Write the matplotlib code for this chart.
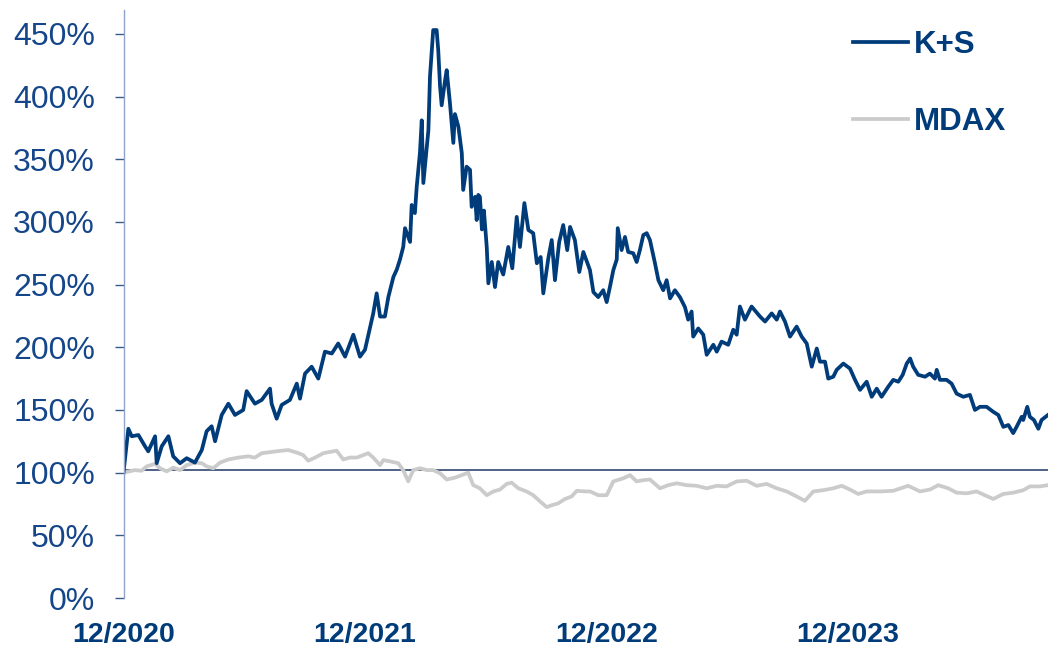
import matplotlib
matplotlib.use("Agg")
import matplotlib.pyplot as plt
from matplotlib.ticker import FuncFormatter

plt.rcParams['font.family'] = ['Liberation Sans', 'DejaVu Sans']

# months since 12/2020
ks_month = [0, 0.24, 0.41, 0.74, 1.07, 1.23, 1.57, 1.65, 1.90, 2.23, 2.47, 2.81, 3.14, 3.55,
            3.89, 4.13, 4.38, 4.55, 4.88, 5.21, 5.54, 5.95, 6.12, 6.53, 6.87, 7.28, 7.36, 7.61,
            7.86, 8.27, 8.61, 8.77, 9.02, 9.35, 9.68, 10.01, 10.35, 10.67, 11.01, 11.42, 11.75,
            12.00, 12.41, 12.58, 12.75, 12.99, 13.16, 13.41, 13.58, 13.74, 13.90, 13.99, 14.24,
            14.32, 14.48, 14.57, 14.73, 14.82, 14.90, 15.07, 15.15, 15.23, 15.39, 15.56, 15.64,
            15.73, 15.81, 15.98, 16.06, 16.22, 16.39, 16.47, 16.64, 16.81, 16.88, 17.05, 17.22,
            17.30, 17.47, 17.55, 17.63, 17.71, 17.81, 17.91, 18.05, 18.13, 18.30, 18.46, 18.62,
            18.87, 19.12, 19.32, 19.54, 19.70, 19.92, 20.12, 20.36, 20.54, 20.73, 20.86, 21.11,
            21.28, 21.44, 21.65, 21.85, 22.05, 22.19, 22.43, 22.65, 22.85, 23.18, 23.35, 23.59,
            23.84, 24.01, 24.17, 24.34, 24.51, 24.56, 24.75, 24.92, 25.08, 25.33, 25.50, 25.66,
            25.83, 26.00, 26.16, 26.41, 26.58, 26.82, 26.99, 27.16, 27.40, 27.65, 27.90, 28.06,
            28.23, 28.31, 28.56, 28.81, 28.98, 29.31, 29.48, 29.72, 30.05, 30.30, 30.47, 30.63,
            30.88, 31.21, 31.63, 31.88, 32.21, 32.46, 32.62, 32.87, 33.12, 33.45, 33.70, 33.95,
            34.20, 34.45, 34.61, 34.86, 35.02, 35.27, 35.44, 35.77, 36.10, 36.35, 36.60, 36.93,
            37.18, 37.43, 37.67, 38.00, 38.25, 38.50, 38.72, 38.92, 39.09, 39.24, 39.49, 39.83,
            40.07, 40.32, 40.41, 40.57, 40.90, 41.15, 41.40, 41.73, 42.06, 42.31, 42.56, 42.89,
            43.22, 43.47, 43.72, 43.97, 44.21, 44.38, 44.63, 44.71, 44.91, 45.04, 45.24, 45.46,
            45.62, 45.94]
ks_value = [100, 135, 129, 130, 121, 117, 129, 107.5, 121, 129, 113, 107.5, 111.5, 108,
            118, 133, 137, 125, 146, 155, 146, 150, 165, 155, 158, 167, 155, 143,
            154, 158, 171, 159, 179, 184.5, 175, 196.5, 195, 203, 192.5, 210, 192.5,
            198, 227, 243, 224.5, 224.5, 240, 256, 262, 270, 280, 295, 284,
            313.5, 307, 328, 355, 381, 331, 360, 373, 416, 453, 453, 437,
            408, 393, 413, 421, 395, 363, 386, 376, 355, 325.5, 344, 341.5,
            312, 320, 301.5, 321.5, 320, 294, 309, 280, 251, 268, 248, 268,
            258, 280, 263, 304, 280, 315, 293.5, 291, 267, 272, 243, 271,
            285.5, 253.5, 284, 297.5, 277.5, 296, 285.5, 260, 276, 261.5, 244, 240,
            245.5, 236, 248, 261.5, 270, 295, 277.5, 288, 276, 275, 268, 277.5,
            289.5, 291, 285.5, 267, 253.5, 245.5, 253.5, 239, 245.5, 240, 232, 222,
            228.5, 208.5, 215, 210, 194, 202, 196.5, 204.5, 202, 214, 210, 232.5,
            222, 232.5, 224.5, 220.5, 227, 222, 228.5, 220.5, 208.5, 216.5, 208.5, 203,
            184.5, 199, 188.5, 188.5, 175, 176.5, 182, 187, 183, 174, 166, 172.5,
            160.5, 167, 160.5, 168.5, 174, 172.5, 178, 187, 191, 184.5, 178, 176.5,
            179, 175, 182, 174, 174, 171, 163, 160.5, 162, 150, 152.5, 152.5,
            148.5, 146, 136.5, 138, 131.5, 136.5, 144.5, 142, 152.5, 144.5, 142, 135,
            142, 146]

mdax_month = [0, 0.57, 0.90, 1.15, 1.57, 1.81, 2.15, 2.47, 2.81, 3.14, 3.55, 3.89, 4.13, 4.46,
              4.80, 5.21, 5.70, 6.20, 6.53, 6.87, 7.36, 7.86, 8.19, 8.61, 8.93, 9.18, 9.52,
              9.93, 10.26, 10.59, 10.92, 11.25, 11.59, 11.92, 12.16, 12.41, 12.75, 12.91, 13.24,
              13.65, 13.90, 14.15, 14.40, 14.73, 15.07, 15.39, 15.73, 16.06, 16.47, 16.81, 17.13,
              17.38, 17.71, 18.05, 18.38, 18.71, 19.04, 19.29, 19.62, 20.03, 20.36, 20.70, 21.03,
              21.28, 21.60, 21.94, 22.27, 22.52, 22.93, 23.18, 23.59, 24.01, 24.34, 24.84, 25.17,
              25.50, 25.83, 26.16, 26.66, 27.07, 27.49, 27.98, 28.48, 28.98, 29.48, 29.97, 30.47,
              30.97, 31.46, 31.96, 32.46, 32.95, 33.45, 33.86, 34.28, 34.77, 35.27, 35.69, 36.10,
              36.51, 36.93, 37.59, 38.25, 38.99, 39.58, 40.07, 40.49, 40.98, 41.40, 41.90, 42.39,
              42.80, 43.22, 43.72, 44.21, 44.71, 45.04, 45.53, 45.94]
mdax_value = [100, 102, 101.5, 105, 107, 103.5, 101, 104, 102, 106, 108, 107.5, 105, 103.5,
              108, 110.5, 112, 113, 112, 115.5, 116.5, 117.5, 118, 116, 114, 109.5, 112,
              115.5, 116.5, 117.5, 110.5, 112, 112, 114, 115.5, 112, 106, 110, 109,
              107.5, 102, 93, 102, 103.5, 102, 102, 99.5, 94.5, 96, 98, 100,
              90, 87.5, 82, 85, 86.5, 91, 92, 87.5, 85, 82, 77, 72.5,
              74, 75.5, 79, 81, 85.5, 85, 85, 82, 82, 93, 95.5, 98,
              93, 94, 94.5, 87.5, 90, 91.5, 90, 89.5, 87.5, 89.5, 89, 93,
              93.5, 89.5, 91, 87.5, 85, 81, 77.5, 85, 86, 87.5, 89.5, 86.5,
              83, 85, 85, 85.5, 89.5, 85, 86.5, 90, 87.5, 84, 83.5, 85,
              82, 79, 83, 84, 86, 89, 89, 90]

tick_months = [0, 12, 24, 36]
tick_labels = ['12/2020', '12/2021', '12/2022', '12/2023']
y_ticks = [0, 50, 100, 150, 200, 250, 300, 350, 400, 450]

navy = '#003B7A'
grey = '#CBCBCB'
axis_col = '#8EA4C8'

fig = plt.figure(figsize=(10.48, 6.46), dpi=100)
ax = fig.add_axes([123.5 / 1048, 1 - 598 / 646, 1 - 123.5 / 1048, (598 - 10) / 646])

ax.plot(mdax_month, mdax_value, color=grey, lw=2.7, label='MDAX', solid_joinstyle='round')
ax.plot(ks_month, ks_value, color=navy, lw=2.7, label='K+S', solid_joinstyle='round')
ax.axhline(102, color='#1F3864', lw=1.1, zorder=1)

ax.set_xlim(0, 45.94)
ax.set_ylim(0, 469)
ax.set_yticks(y_ticks)
ax.yaxis.set_major_formatter(FuncFormatter(lambda v, p: f'{v:.0f}%'))
ax.set_xticks(tick_months)
ax.set_xticklabels(tick_labels)

for s in ['top', 'right', 'bottom']:
    ax.spines[s].set_visible(False)
ax.spines['left'].set_color(axis_col)
ax.spines['left'].set_linewidth(1.0)

ax.tick_params(axis='y', direction='out', length=6.5, width=1.0, color='#3A5A8C',
               labelsize=23, labelcolor='#15468A', pad=14)
ax.tick_params(axis='x', length=0, labelsize=20.5, labelcolor=navy, pad=17)
for t in ax.get_xticklabels():
    t.set_fontweight('bold')

handles, labels = ax.get_legend_handles_labels()
leg = ax.legend(handles[::-1], labels[::-1], loc='upper left',
                bbox_to_anchor=(825 / 1048, 1 - 2 / 646), bbox_transform=fig.transFigure,
                frameon=False, handlelength=1.75, handletextpad=0.2, labelspacing=1.5,
                prop={'size': 22.5, 'weight': 'bold'})
for t in leg.get_texts():
    t.set_color(navy)

fig.savefig('out.png', dpi=100)
